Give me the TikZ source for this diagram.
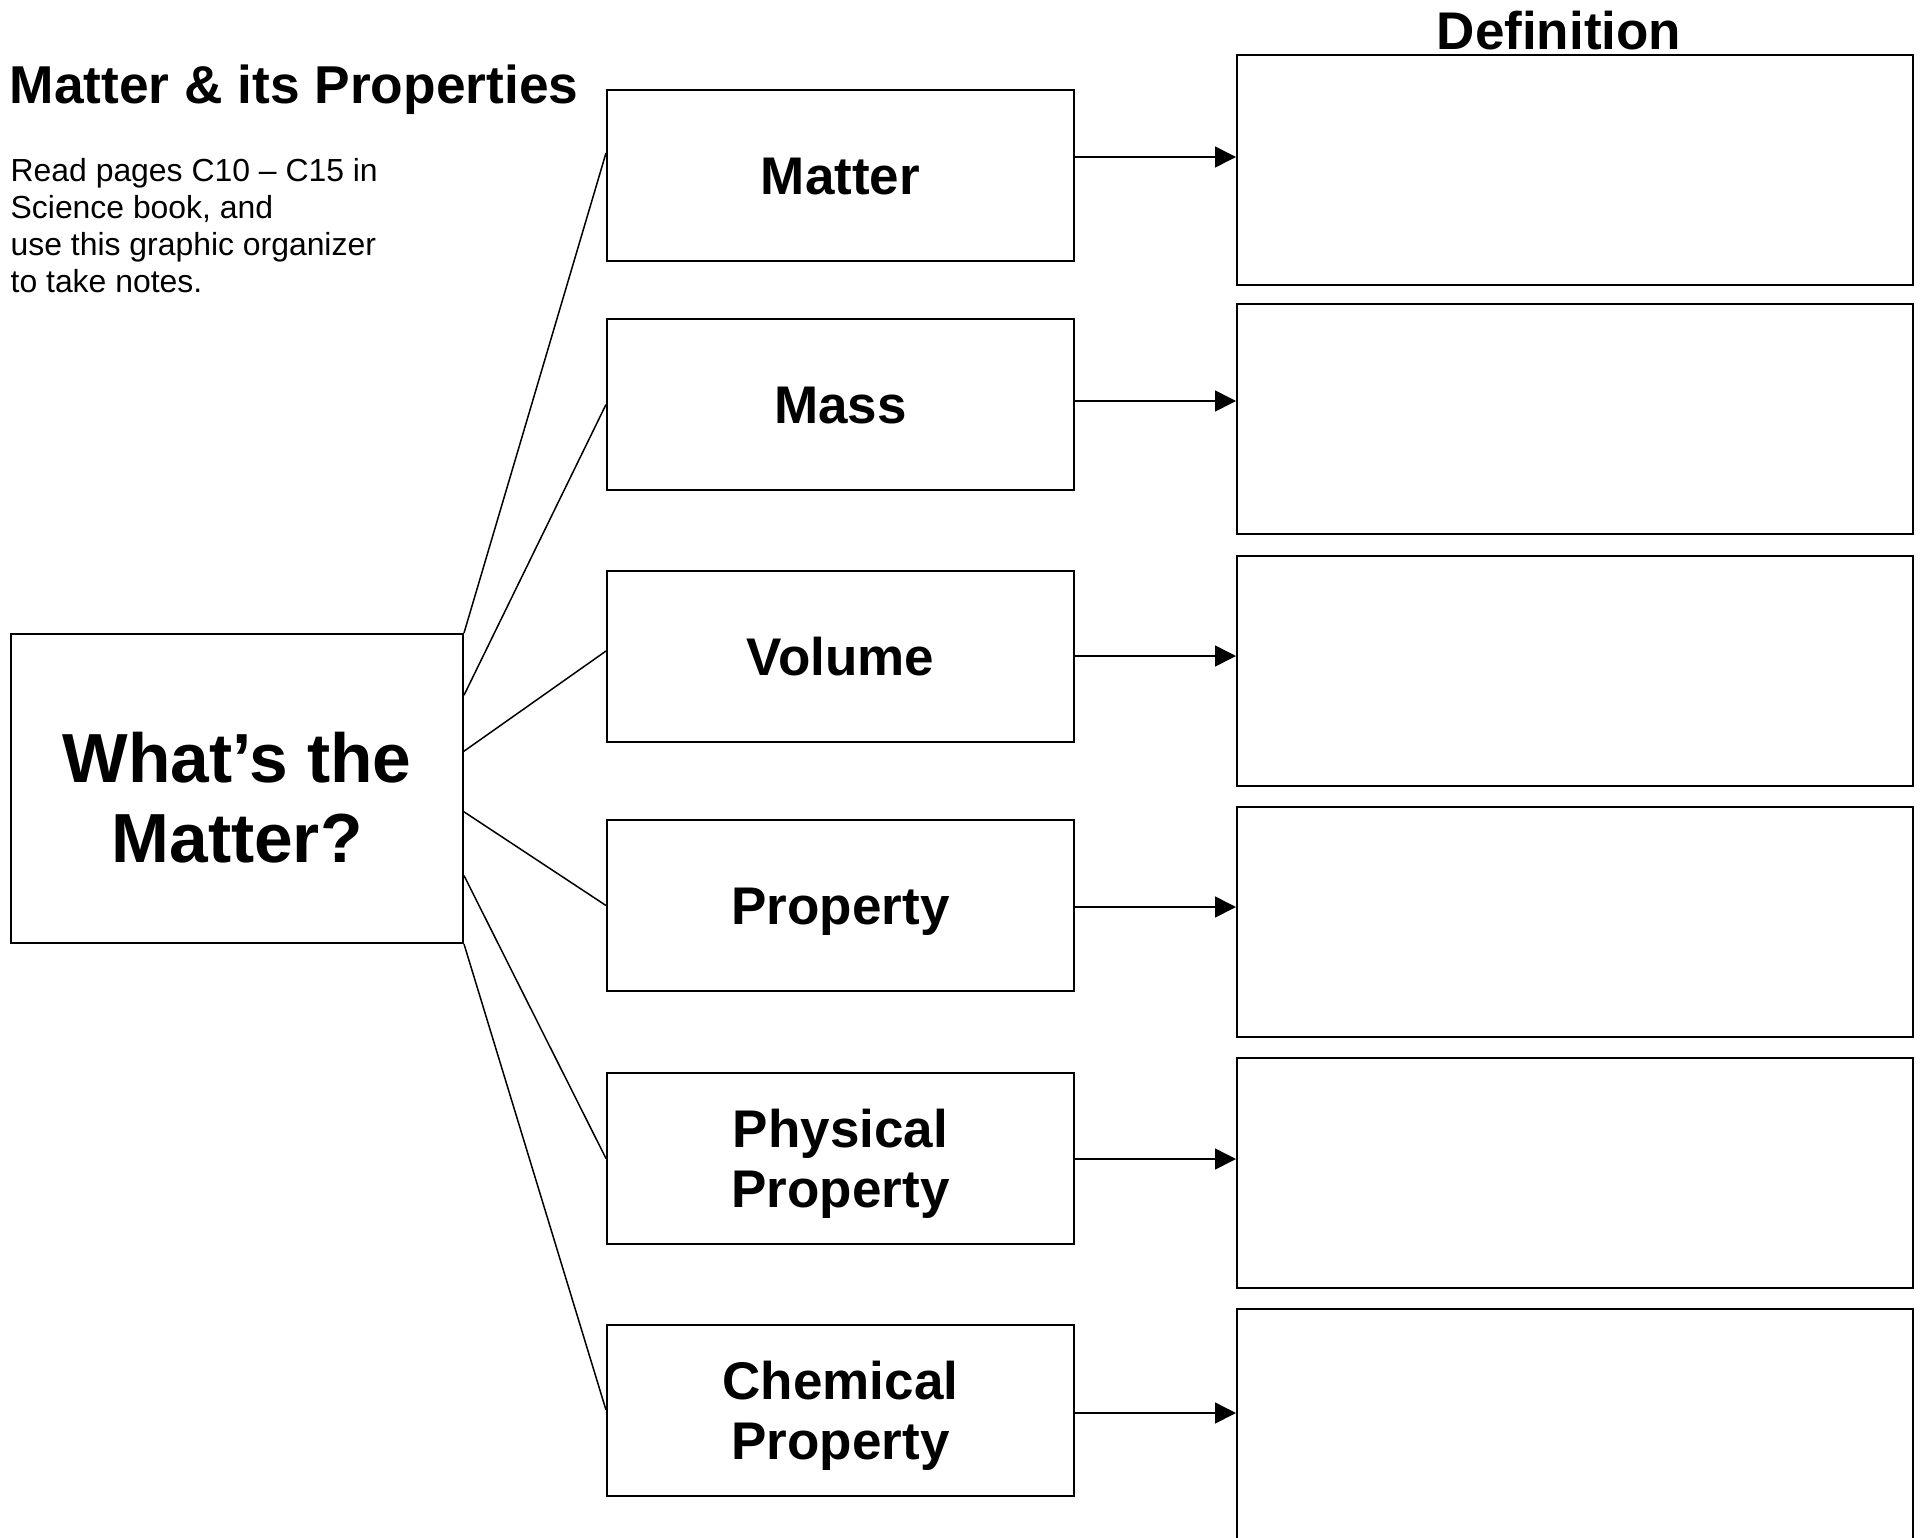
\documentclass[tikz,border=0pt]{standalone}
\usepackage{fontspec}
\setmainfont{Liberation Sans}
\usetikzlibrary{arrows.meta,calc}
\begin{document}
\begin{tikzpicture}[x=1pt,y=-1pt,
  box/.style={draw, line width=2pt, inner sep=0pt},
  midbox/.style={box, minimum width=467pt, minimum height=171pt,
    font=\bfseries\fontsize{53}{60}\selectfont, align=center,
    text height=38pt, text depth=0pt},
  twoline/.style={text height=98pt, text depth=0pt},
  defbox/.style={box, minimum width=676pt, minimum height=230pt},
  link/.style={line width=1.5pt},
  arr/.style={line width=1.5pt, -{Triangle[length=21pt,width=21pt]}}]
\useasboundingbox (0,0) rectangle (1925,1537);

% header texts
\node[anchor=base west, inner sep=0pt, font=\bfseries\fontsize{53.3}{60}\selectfont] (title) at (9.5,103) {Matter \& its Properties};
\node[anchor=base west, inner sep=0pt, align=left, font=\fontsize{31.9}{36.8}\selectfont] (intro) at (10.5,292)
  {Read pages C10 – C15 in\\Science book, and\\use this graphic organizer\\to take notes.};
\node[anchor=base, inner sep=0pt, font=\bfseries\fontsize{53}{60}\selectfont] (deft) at (1559,49) {Definition};

% central box
\node[box, minimum width=452pt, minimum height=309pt,
  font=\bfseries\fontsize{69.5}{80}\selectfont, align=center,
  text height=147pt, text depth=0pt] (L) at (237,788.5) {What’s the\\Matter?};

% middle boxes
\node[midbox] (m1) at (840.5,175) {Matter};
\node[midbox] (m2) at (840.5,404.5) {Mass};
\node[midbox] (m3) at (840.5,656) {Volume};
\node[midbox] (m4) at (840.5,905.5) {Property};
\node[midbox, twoline] (m5) at (840.5,1158.5) {Physical\\Property};
\node[midbox, twoline] (m6) at (840.5,1410) {Chemical\\Property};

% definition boxes
\node[defbox] (d1) at (1575,170) {};
\node[defbox] (d2) at (1575,419) {};
\node[defbox] (d3) at (1575,670.5) {};
\node[defbox] (d4) at (1575,922) {};
\node[defbox] (d5) at (1575,1172.5) {};
\node[defbox] (d6) at (1575,1424) {};

% links from central box
\draw[link] (L.north east) -- ([yshift=22pt]m1.west);
\draw[link] ($(L.north east)!0.2!(L.south east)$) -- (m2.west);
\draw[link] ($(L.north east)!0.38!(L.south east)$) -- ([yshift=5pt]m3.west);
\draw[link] ($(L.north east)!0.575!(L.south east)$) -- (m4.west);
\draw[link] ($(L.north east)!0.78!(L.south east)$) -- (m5.west);
\draw[link] (L.south east) -- (m6.west);

% arrows to definitions
\coordinate (a1) at (0,157);
\coordinate (a2) at (0,401);
\coordinate (a3) at (0,656);
\coordinate (a4) at (0,907);
\coordinate (a5) at (0,1159);
\coordinate (a6) at (0,1413);
\draw[arr] (m1.east |- a1) -- (d1.west |- a1);
\draw[arr] (m2.east |- a2) -- (d2.west |- a2);
\draw[arr] (m3.east |- a3) -- (d3.west |- a3);
\draw[arr] (m4.east |- a4) -- (d4.west |- a4);
\draw[arr] (m5.east |- a5) -- (d5.west |- a5);
\draw[arr] (m6.east |- a6) -- (d6.west |- a6);
\end{tikzpicture}
\end{document}
